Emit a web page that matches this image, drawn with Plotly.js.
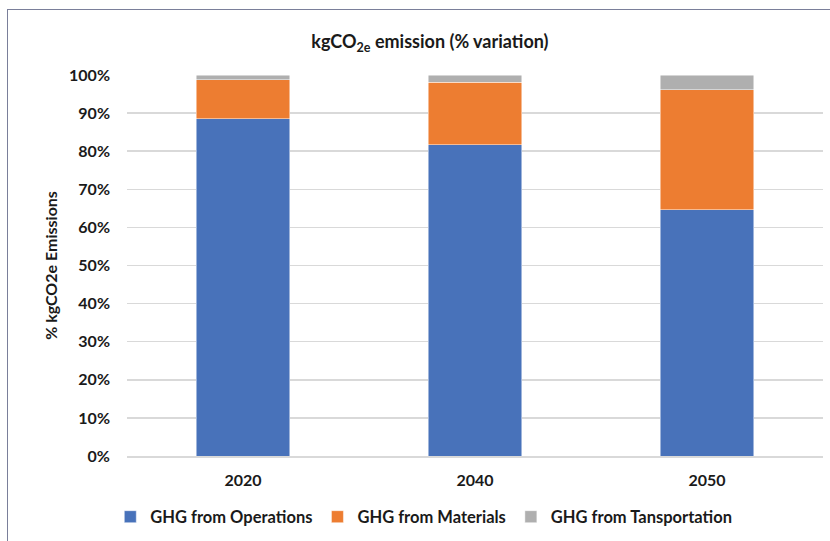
<!DOCTYPE html>
<html>
<head>
<meta charset="utf-8">
<script src="https://cdn.plot.ly/plotly-3.0.1.min.js"></script>
<style>
  html, body { margin: 0; padding: 0; background: #fff; }
  #wrap { position: relative; width: 830px; height: 541px; overflow: hidden; }
  #frame { position: absolute; left: 7px; top: 9px; width: 840px; height: 560px;
           border-left: 1.5px solid #7a7f9a; border-top: 1.5px solid #7a7f9a; box-sizing: border-box; pointer-events: none; }
  #chart { position: absolute; left: 0; top: 0; width: 830px; height: 541px; }
</style>
</head>
<body>
<div id="wrap">
  <div id="chart"></div>
  <div id="frame"></div>
</div>
<script>
const years = ["2020", "2040", "2050"];
const operations = [88.5, 81.7, 64.6];
const materials = [10.3, 16.4, 31.5];
const transport = [1.2, 1.9, 3.9];
const yTicks = [0, 10, 20, 30, 40, 50, 60, 70, 80, 90, 100];

const font = "Lato, 'Open Sans', sans-serif";
const lineW = {color: "rgba(255,255,255,0.6)", width: 0.8};

const traces = [
  {type: "bar", name: "GHG from Operations", x: years, y: operations, marker: {color: "#4872BA", line: lineW}, hoverinfo: "y"},
  {type: "bar", name: "GHG from Materials", x: years, y: materials, marker: {color: "#ED7D31", line: lineW}, hoverinfo: "y"},
  {type: "bar", name: "GHG from Tansportation", x: years, y: transport, marker: {color: "#AFAFAF", line: lineW}, hoverinfo: "y"}
];

const layout = {
  width: 830, height: 541,
  margin: {l: 127, r: 7, t: 75, b: 85},
  paper_bgcolor: "#fff", plot_bgcolor: "#fff",
  barmode: "stack", bargap: 0.595,
  font: {family: font, size: 14, color: "#1a1a1a", weight: 700},
  title: {text: "kgCO<sub>2e</sub> emission (% variation)", x: 0.518, xanchor: "center", y: 0.922, yanchor: "middle",
          font: {family: font, size: 18, color: "#1a1a1a", weight: 700}},
  xaxis: {type: "category", showgrid: false, zeroline: false, showline: true, linecolor: "#d9d9d9", linewidth: 1.5,
          ticks: "", ticklabelstandoff: 9, tickfont: {family: font, size: 16, weight: 700, color: "#1a1a1a"}},
  yaxis: {range: [0, 100], tickvals: yTicks, ticktext: yTicks.map(v => v + "%"), showgrid: true, gridcolor: "#d9d9d9", gridwidth: 1.5,
          zeroline: false, showline: false, ticks: "", ticklabelstandoff: 16,
          tickfont: {family: font, size: 16, weight: 700, color: "#1a1a1a"},
          title: {text: "% kgCO2e Emissions", standoff: 7, font: {family: font, size: 16, weight: 700, color: "#1a1a1a"}}},
  legend: {orientation: "h", x: -0.024, xanchor: "left", y: -0.16, yanchor: "middle",
           font: {family: font, size: 16.5, weight: 700, color: "#1a1a1a"}, itemwidth: 30, traceorder: "normal"},
  showlegend: true
};

Plotly.newPlot("chart", traces, layout, {displayModeBar: false, staticPlot: true});
</script>
</body>
</html>
